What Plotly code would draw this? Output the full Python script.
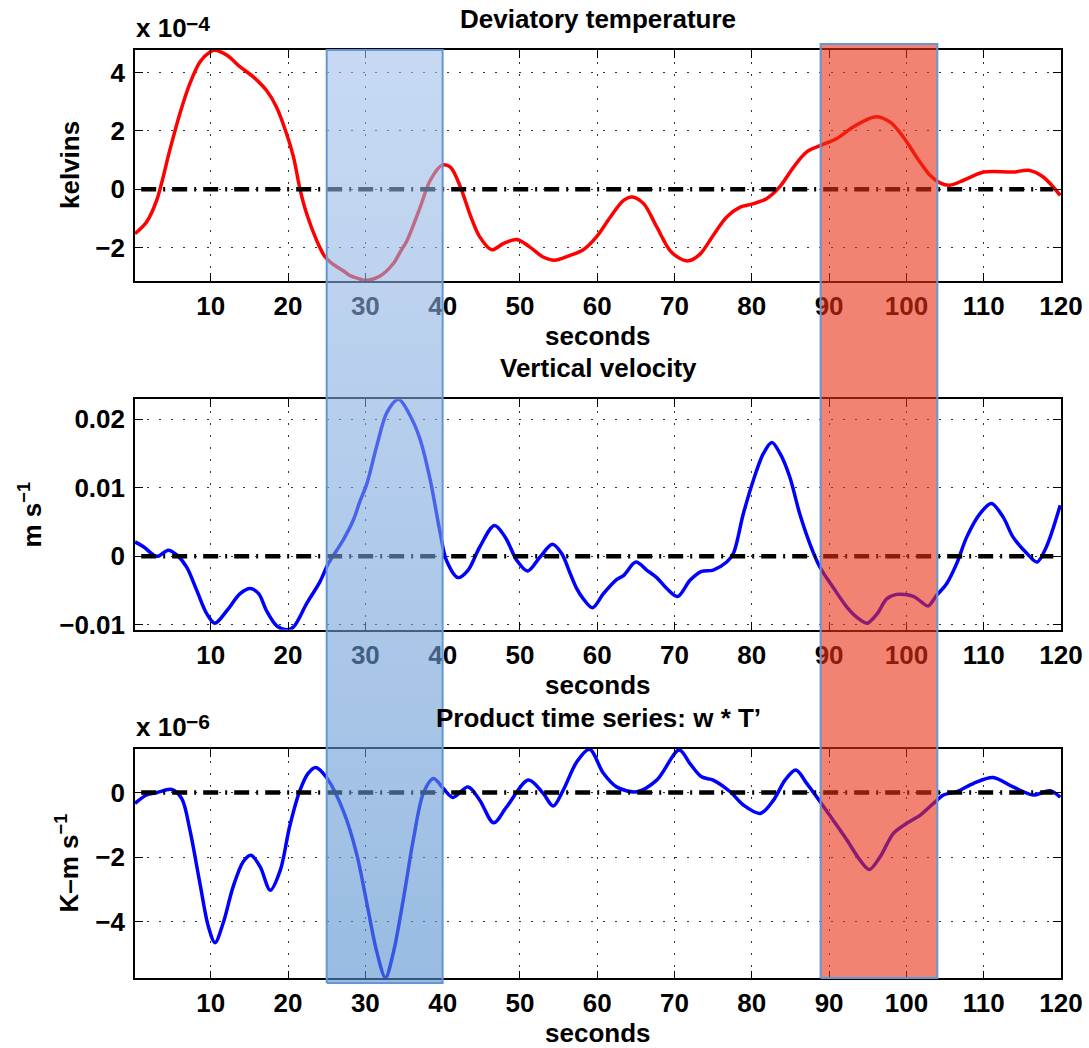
import plotly.graph_objects as go

W, H = 1089, 1048

# ---------------- data ----------------
time_T = [0.2, 1.7, 3.0, 4.7, 6.0, 7.3, 8.6, 9.9, 10.5, 12.1, 13.8, 15.5, 17.2, 18.5, 19.8,
          20.7, 21.55, 22.4, 23.7, 24.8, 25.9, 27.2, 28.0, 29.3, 30.0, 31.9, 33.6, 34.5, 35.4,
          37.1, 38.4, 39.9, 41.0, 42.3, 43.5, 44.8, 46.35, 47.85, 49.6, 51.3, 53.0, 54.5,
          56.5, 58.2, 59.9, 61.7, 63.4, 64.5, 66.0, 67.7, 69.4, 70.7, 71.8, 73.3, 75.0,
          76.75, 78.5, 80.0, 81.9, 83.6, 85.4, 87.1, 89.0, 91.0, 93.1, 95.9, 97.9, 99.6,
          101.3, 103.05, 104.35, 105.6, 107.4, 110.0, 113.8, 115.8, 117.7, 119.9]
temp_e4 = [-1.52, -1.12, -0.38, 1.34, 2.59, 3.62, 4.36, 4.70, 4.76, 4.59, 4.19, 3.85, 3.39, 2.82, 1.91,
           1.11, 0.0, -0.83, -1.75, -2.32, -2.58, -2.80, -2.95, -3.07, -3.12, -2.97, -2.55, -2.15, -1.75,
           -0.61, 0.31, 0.82, 0.76, 0.08, -0.83, -1.63, -2.07, -1.86, -1.72, -1.98, -2.32, -2.43,
           -2.26, -2.07, -1.63, -0.95, -0.38, -0.26, -0.49, -1.29, -2.09, -2.37, -2.45, -2.22, -1.58,
           -0.95, -0.61, -0.51, -0.32, 0.08, 0.76, 1.28, 1.51, 1.74, 2.13, 2.48, 2.30, 1.79,
           1.11, 0.48, 0.22, 0.14, 0.31, 0.59, 0.59, 0.65, 0.42, -0.21]

time_w = [0.2, 1.3, 2.6, 3.2, 4.5, 5.6, 6.9, 8.2, 9.5, 10.55, 12.1, 13.8, 15.1, 16.2, 17.2, 18.5,
          19.8, 20.7, 22.4, 24.1, 25.2, 26.3, 27.2, 28.45, 29.3, 30.2, 31.5, 32.8, 34.3, 35.8,
          37.1, 38.4, 39.7, 40.5, 42.0, 43.3, 44.8, 46.7, 48.1, 49.6, 51.0, 52.6, 54.2, 55.4,
          56.5, 57.35, 58.2, 59.4, 60.8, 62.5, 63.4, 65.0, 66.4, 67.7, 69.0, 70.4, 72.0, 73.5,
          75.0, 76.75, 77.6, 78.9, 80.2, 81.5, 82.6, 83.65, 84.9, 86.2, 87.5, 88.8, 90.5, 92.3,
          93.6, 94.9, 96.2, 97.45, 98.75, 100.9, 102.0, 102.8, 103.9, 105.2, 106.5, 107.8,
          109.5, 111.0, 112.5, 113.8, 115.6, 116.9, 118.1, 119.9]
vel = [0.0021, 0.0014, 0.0002, 0.0, 0.0009, 0.0002, -0.0016, -0.0050, -0.0084, -0.00975, -0.0079,
       -0.00545, -0.0047, -0.00545, -0.0079, -0.0101, -0.0107, -0.0103, -0.0069, -0.00376,
       -0.00107, 0.00088, 0.0025, 0.0053, 0.0080, 0.0106, 0.0162, 0.0210, 0.0229, 0.0205,
       0.0170, 0.0111, 0.0033, -0.0006, -0.0031, -0.0020, 0.00136, 0.0045, 0.0028, -0.0006,
       -0.00215, -0.0001, 0.00175, 0.0004, -0.0025, -0.0047, -0.0062, -0.0075, -0.00545,
       -0.0034, -0.0028, -0.00083, -0.0020, -0.0031, -0.0047, -0.00585, -0.0035, -0.0022,
       -0.0020, -0.00083, 0.0004, 0.0062, 0.0111, 0.0150, 0.0166, 0.0150, 0.0116, 0.0062,
       0.00186, -0.00156, -0.0045, -0.0074, -0.0089, -0.00975, -0.0084, -0.0062, -0.00555,
       -0.00585, -0.0067, -0.00725, -0.0057, -0.0040, -0.00107, 0.0028, 0.0062, 0.0077,
       0.00575, 0.0028, 0.0004, -0.00083, 0.00136, 0.00745]

time_p = [0.2, 1.7, 3.0, 4.95, 6.25, 7.3, 8.6, 9.7, 10.55, 11.6, 12.9, 14.2, 15.2, 16.4, 17.7,
          19.0, 20.2, 21.55, 22.6, 23.6, 25.0, 27.2, 28.9, 30.2, 31.5, 32.6, 33.6, 34.9, 36.2,
          37.5, 38.8, 40.1, 41.3, 43.3, 44.8, 46.6, 48.3, 51.1, 53.0, 54.3, 55.6, 57.35, 59.0,
          60.8, 62.5, 65.1, 67.7, 70.6, 72.0, 73.5, 75.0, 77.2, 78.9, 81.1, 82.8, 84.3, 85.7,
          87.1, 89.0, 90.5, 92.3, 94.0, 95.2, 96.6, 98.3, 100.0, 101.8, 103.5, 104.8, 106.5,
          108.7, 111.2, 113.8, 116.4, 118.6, 119.9]
prod_e6 = [-0.34, -0.08, -0.01, 0.09, -0.19, -1.16, -2.81, -4.15, -4.64, -4.04, -2.91, -2.14, -1.94,
           -2.30, -3.02, -2.40, -1.06, 0.07, 0.59, 0.77, 0.45, -0.60, -1.92, -3.43, -4.94, -5.72,
           -4.97, -3.32, -1.47, -0.03, 0.43, 0.12, -0.155, 0.17, -0.24, -0.94, -0.44, 0.38, -0.03,
           -0.42, 0.07, 0.94, 1.33, 0.59, 0.17, 0.02, 0.38, 1.31, 0.89, 0.48, 0.38, 0.02, -0.39,
           -0.65, -0.24, 0.38, 0.69, 0.28, -0.34, -0.85, -1.47, -2.09, -2.38, -1.99, -1.27, -0.96,
           -0.70, -0.34, -0.08, 0.02, 0.28, 0.46, 0.17, -0.08, 0.05, -0.15]

x_ticks = [10, 20, 30, 40, 50, 60, 70, 80, 90, 100, 110, 120]
temp_ticks = [-2, 0, 2, 4]
temp_ticklabels = ["\u22122", "0", "2", "4"]
vel_ticks = [-0.01, 0, 0.01, 0.02]
vel_ticklabels = ["\u22120.01", "0", "0.01", "0.02"]
prod_ticks = [-4, -2, 0]
prod_ticklabels = ["\u22124", "\u22122", "0"]

zero_span = [1, 119]
blue_window = [25, 40]
red_window = [88.9, 104]

x_range = [0.2, 120]
temp_range = [-3.14, 4.77]
vel_range = [-0.0107, 0.0229]
prod_range = [-5.74, 1.34]

# ---------------- layout helpers ----------------
FONT = "Liberation Sans"
FS = 26


def fx(p):
    return p / W


def fy(p):
    return 1 - p / H


PLOT_L, PLOT_R = 135, 1061
panels = [(50, 281), (399.3, 629.7), (749, 978.3)]  # top/bottom pixel rows

fig = go.Figure()

series = [
    (time_T, temp_e4, "#ff0000", "x", "y"),
    (time_w, vel, "#0000ff", "x2", "y2"),
    (time_p, prod_e6, "#0000ff", "x3", "y3"),
]
for tx, vy, col, xa, ya in series:
    fig.add_trace(go.Scatter(x=tx, y=vy, mode="lines", xaxis=xa, yaxis=ya,
                             line=dict(color=col, width=3.5, shape="spline", smoothing=0.9),
                             showlegend=False, hoverinfo="skip"))
for xa, ya in [("x", "y"), ("x2", "y2"), ("x3", "y3")]:
    fig.add_trace(go.Scatter(x=zero_span, y=[0, 0], mode="lines", xaxis=xa, yaxis=ya,
                             line=dict(color="black", width=4.5, dash="15px,7px,2px,7px"),
                             showlegend=False, hoverinfo="skip"))

# highlight windows on a full-height overlay axis (y in pixels from top)
blue_top, blue_bot = 50, 983
red_top, red_bot = 44, 978
fig.add_trace(go.Scatter(
    x=[blue_window[0], blue_window[1], blue_window[1], blue_window[0], blue_window[0]],
    y=[blue_bot, blue_bot, blue_top, blue_top, blue_bot],
    xaxis="x4", yaxis="y4", mode="lines", fill="toself",
    fillgradient=dict(type="vertical", start=blue_top, stop=blue_bot,
                      colorscale=[[0, "rgba(160,191,234,0.58)"], [1, "rgba(86,143,207,0.60)"]]),
    line=dict(color="rgba(100,150,210,1)", width=2),
    showlegend=False, hoverinfo="skip"))
fig.add_trace(go.Scatter(
    x=[red_window[0], red_window[1], red_window[1], red_window[0], red_window[0]],
    y=[red_bot, red_bot, red_top, red_top, red_bot],
    xaxis="x4", yaxis="y4", mode="lines", fill="toself",
    fillcolor="rgba(233,47,20,0.6)",
    line=dict(color="rgba(100,150,210,1)", width=2),
    showlegend=False, hoverinfo="skip"))

axis_common = dict(
    showline=True, linecolor="black", linewidth=1.6, mirror="ticks",
    ticks="inside", ticklen=8, tickwidth=1.2, tickcolor="black",
    showgrid=True, gridcolor="#333333", gridwidth=1.2, griddash="2px,10px",
    zeroline=False, automargin=False,
    tickfont=dict(family=FONT, size=FS, color="black", weight="bold"),
)

layout = dict(
    width=W, height=H, autosize=False,
    margin=dict(l=0, r=0, t=0, b=0, pad=0, autoexpand=False),
    paper_bgcolor="white", plot_bgcolor="rgba(0,0,0,0)",
    showlegend=False,
)
yinfo = [
    (temp_range, temp_ticks, temp_ticklabels),
    (vel_range, vel_ticks, vel_ticklabels),
    (prod_range, prod_ticks, prod_ticklabels),
]
for i, ((ptop, pbot), (yr, yt, yl)) in enumerate(zip(panels, yinfo)):
    sfx = "" if i == 0 else str(i + 1)
    layout["xaxis" + sfx] = dict(axis_common, domain=[fx(PLOT_L), fx(PLOT_R)], range=x_range,
                                 tickvals=x_ticks, anchor="y" + sfx, ticklabelstandoff=1)
    layout["yaxis" + sfx] = dict(axis_common, domain=[fy(pbot), fy(ptop)], range=yr,
                                 tickvals=yt, ticktext=yl, anchor="x" + sfx, ticklabelstandoff=3)
layout["xaxis4"] = dict(domain=[fx(PLOT_L), fx(PLOT_R)], range=x_range, visible=False,
                        showticklabels=False, anchor="y4", fixedrange=True, automargin=False)
layout["yaxis4"] = dict(domain=[0, 1], range=[H, 0], visible=False, showticklabels=False,
                        anchor="x4", fixedrange=True, automargin=False)

fig.update_layout(**layout)

cx = fx((PLOT_L + PLOT_R) / 2)
tfont = dict(family=FONT, size=FS, color="black", weight="bold")
ann = []
for text, base in [("Deviatory temperature", 28), ("Vertical velocity", 377),
                   ("Product time series: w * T\u2019", 727),
                   ("seconds", 345), ("seconds", 694), ("seconds", 1042)]:
    ann.append(dict(text=text, x=cx, y=fy(base - 9), xref="paper", yref="paper",
                    xanchor="center", yanchor="middle", showarrow=False, font=tfont, borderpad=0))
# multipliers
for base, exp_text in [(38.5, "\u22124"), (737, "\u22126")]:
    ann.append(dict(text="x 10", x=fx(135), y=fy(base + 5.5), xref="paper", yref="paper",
                    xanchor="left", yanchor="bottom", showarrow=False, font=tfont, borderpad=0))
    ann.append(dict(text=exp_text, x=fx(185), y=fy(base - 8 + 5), xref="paper", yref="paper",
                    xanchor="left", yanchor="bottom", showarrow=False,
                    font=dict(family=FONT, size=21, color="black", weight="bold"), borderpad=0))
# y labels
for text, base, cy in [("kelvins", 80, 165.5), ("m s<sup>\u22121</sup>", 43, 514.5),
                       ("K\u2013m s<sup>\u22121</sup>", 80, 863.5)]:
    ann.append(dict(text=text, x=fx(base + 5.5), y=fy(cy), xref="paper", yref="paper",
                    xanchor="right", yanchor="middle", textangle=-90, showarrow=False,
                    font=tfont, borderpad=0))
fig.update_layout(annotations=ann)

fig.write_html("out.html")
